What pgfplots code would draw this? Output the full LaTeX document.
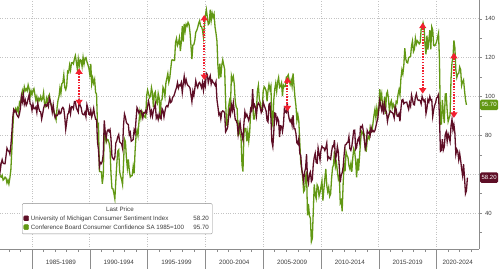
\documentclass[border=0pt]{standalone}
\usepackage{pgfplots}
\pgfplotsset{compat=1.18}
\usepackage{pgfplotstable}
\usepackage{fontspec}
\setmainfont{Liberation Sans}
\usetikzlibrary{arrows.meta}
\definecolor{umich}{RGB}{94,14,38}
\definecolor{cbgreen}{RGB}{98,152,20}
\definecolor{arr}{RGB}{242,32,48}
\definecolor{gridc}{RGB}{195,195,195}
\definecolor{axc}{RGB}{140,140,140}
\definecolor{txt}{RGB}{60,60,60}

% University of Michigan, monthly from Jan 1982
\pgfplotstableread[row sep=\\]{v\\
71.0\\66.5\\62.0\\65.5\\67.5\\65.7\\65.4\\65.4\\69.3\\73.4\\72.1\\71.9\\
70.4\\74.6\\80.8\\89.1\\93.3\\92.2\\92.8\\90.9\\89.9\\89.3\\91.1\\94.2\\
100.1\\97.4\\101.0\\96.1\\98.1\\95.5\\96.6\\99.1\\100.9\\96.3\\95.7\\92.9\\
96.0\\93.7\\93.7\\94.6\\91.8\\96.5\\94.0\\92.4\\92.1\\88.4\\90.9\\93.9\\
95.6\\95.9\\95.1\\96.2\\94.8\\99.3\\97.7\\94.9\\91.9\\95.6\\91.4\\89.1\\
90.4\\90.2\\90.8\\92.8\\91.1\\91.5\\93.7\\94.4\\93.6\\89.3\\83.1\\86.8\\
90.8\\91.6\\94.6\\91.2\\94.8\\94.7\\93.7\\97.4\\97.3\\94.1\\93.0\\91.9\\
97.9\\95.4\\94.3\\91.5\\90.7\\90.6\\92.0\\89.6\\95.8\\93.9\\90.9\\90.5\\
93.0\\89.5\\91.3\\93.9\\90.6\\88.3\\88.2\\76.4\\72.8\\63.9\\66.0\\65.5\\
66.8\\70.4\\87.7\\81.8\\78.3\\82.1\\82.9\\82.0\\83.0\\78.3\\69.1\\68.2\\
67.5\\68.8\\76.0\\77.2\\79.2\\80.4\\76.6\\76.1\\75.6\\73.3\\85.3\\91.0\\
89.3\\86.6\\85.9\\85.6\\80.3\\81.5\\77.0\\77.3\\77.9\\82.7\\81.2\\88.2\\
94.3\\93.2\\91.5\\92.6\\92.8\\91.2\\89.0\\91.7\\91.5\\92.7\\91.6\\95.1\\
97.6\\95.1\\90.3\\92.5\\89.8\\92.7\\94.4\\96.2\\88.9\\90.2\\88.2\\91.0\\
89.3\\88.5\\93.7\\92.7\\89.4\\92.4\\94.7\\95.3\\94.7\\96.5\\99.2\\96.9\\
97.4\\99.7\\100.0\\101.4\\103.2\\104.5\\107.1\\104.4\\106.0\\105.6\\107.2\\102.1\\
106.6\\110.4\\106.5\\108.7\\106.5\\105.6\\105.2\\104.4\\100.9\\97.4\\102.7\\100.5\\
103.9\\108.1\\105.7\\104.6\\106.8\\107.3\\106.0\\104.5\\107.2\\103.2\\107.2\\105.4\\
112.0\\111.3\\107.1\\109.2\\110.7\\106.4\\108.3\\107.3\\106.8\\105.8\\107.6\\98.4\\
94.7\\90.6\\91.5\\88.4\\92.0\\92.6\\92.4\\91.5\\81.8\\82.7\\83.9\\88.8\\
93.0\\90.7\\95.7\\93.0\\96.9\\92.4\\88.1\\87.6\\86.1\\80.6\\84.2\\86.7\\
82.4\\79.9\\77.6\\86.0\\92.1\\89.7\\90.9\\89.3\\87.7\\89.6\\93.7\\92.6\\
103.8\\94.4\\95.8\\94.2\\90.2\\95.6\\96.7\\95.9\\94.2\\91.7\\92.8\\97.1\\
95.5\\94.1\\92.6\\87.7\\86.9\\96.0\\96.5\\89.1\\76.9\\74.2\\81.6\\91.5\\
91.2\\86.7\\88.9\\87.4\\79.1\\84.9\\84.7\\82.0\\85.4\\93.6\\92.1\\91.7\\
96.9\\91.3\\88.4\\87.1\\88.3\\85.3\\90.4\\83.4\\83.4\\80.9\\76.1\\75.5\\
78.4\\70.8\\69.5\\62.6\\59.8\\56.4\\61.2\\63.0\\70.3\\57.6\\55.3\\60.1\\
61.2\\56.3\\57.3\\65.1\\68.7\\70.8\\66.0\\65.7\\73.5\\70.6\\67.4\\72.5\\
74.4\\73.6\\73.6\\72.2\\73.6\\76.0\\67.8\\68.9\\68.2\\67.7\\71.6\\74.5\\
74.2\\77.5\\67.5\\69.8\\74.3\\71.5\\63.7\\55.8\\59.5\\60.8\\63.7\\69.9\\
75.0\\75.3\\76.2\\76.4\\79.3\\73.2\\72.3\\74.3\\78.3\\82.6\\82.7\\72.9\\
73.8\\77.6\\78.6\\76.4\\84.5\\84.1\\85.1\\82.1\\77.5\\73.2\\75.1\\82.5\\
81.2\\81.6\\80.0\\84.1\\81.9\\82.5\\81.8\\82.5\\84.6\\86.9\\88.8\\93.6\\
98.1\\95.4\\93.0\\95.9\\90.7\\96.1\\93.1\\91.9\\87.2\\90.0\\91.3\\92.6\\
92.0\\91.7\\91.0\\89.0\\94.7\\93.5\\90.0\\89.8\\91.2\\87.2\\93.8\\98.2\\
98.5\\96.3\\96.9\\97.0\\97.1\\95.1\\93.4\\96.8\\95.1\\100.7\\98.5\\95.9\\
95.7\\99.7\\101.4\\98.8\\98.0\\98.2\\97.9\\96.2\\100.1\\98.6\\97.5\\98.3\\
91.2\\93.8\\98.4\\97.2\\100.0\\98.2\\98.4\\89.8\\93.2\\95.5\\96.8\\99.3\\
99.8\\101.0\\89.1\\71.8\\72.3\\78.1\\72.5\\74.1\\80.4\\81.8\\76.9\\80.7\\
79.0\\76.8\\84.9\\88.3\\82.9\\85.5\\81.2\\70.3\\72.8\\71.7\\67.4\\70.6\\
67.2\\62.8\\59.4\\65.2\\58.4\\50.0\\51.5\\58.2\\
}\umichtab

% Conference Board, monthly from Jan 1982
\pgfplotstableread[row sep=\\]{v\\
62.0\\60.5\\59.0\\58.5\\59.5\\57.0\\57.5\\58.5\\58.0\\55.5\\57.0\\55.0\\
58.0\\62.0\\72.0\\83.0\\92.0\\93.0\\94.0\\92.0\\94.0\\92.0\\97.0\\96.0\\
100.0\\103.0\\101.0\\105.0\\103.0\\104.0\\103.0\\106.0\\104.0\\100.0\\103.0\\101.0\\
103.0\\104.0\\101.0\\98.0\\100.0\\97.0\\99.0\\98.0\\100.0\\98.0\\99.0\\102.0\\
96.0\\95.0\\99.0\\97.0\\100.0\\101.0\\97.0\\96.0\\94.0\\94.0\\92.0\\90.0\\
88.0\\94.1\\98.1\\100.0\\104.4\\101.6\\106.6\\107.2\\111.1\\104.7\\103.5\\105.5\\
113.0\\112.4\\116.2\\113.6\\117.4\\117.5\\116.8\\119.4\\121.1\\117.8\\114.2\\119.4\\
115.6\\119.0\\118.6\\115.4\\120.2\\116.7\\119.5\\120.0\\117.9\\116.4\\114.7\\111.3\\
116.8\\106.5\\109.6\\106.9\\108.8\\102.2\\101.2\\84.7\\85.6\\61.4\\61.3\\61.2\\
55.1\\59.4\\81.1\\79.4\\76.4\\78.0\\77.7\\76.1\\72.9\\60.1\\52.7\\52.5\\
50.2\\47.3\\56.5\\65.1\\71.9\\72.6\\61.2\\59.0\\57.3\\54.6\\65.6\\78.1\\
76.7\\68.5\\63.2\\67.6\\61.9\\58.6\\59.2\\59.3\\63.8\\60.5\\71.9\\79.8\\
82.6\\79.9\\86.7\\92.1\\88.9\\92.5\\91.3\\90.4\\89.5\\89.1\\100.4\\103.4\\
101.4\\99.4\\100.2\\104.6\\102.0\\94.6\\101.4\\102.4\\97.3\\96.3\\101.6\\99.2\\
88.4\\98.0\\98.4\\104.8\\103.5\\100.1\\107.0\\109.4\\111.8\\107.3\\109.5\\114.2\\
118.7\\118.9\\118.5\\118.5\\127.9\\129.9\\126.3\\127.6\\130.2\\123.4\\128.1\\136.2\\
128.3\\137.4\\133.8\\137.2\\136.3\\138.2\\137.2\\133.1\\126.4\\119.3\\126.4\\126.7\\
128.9\\133.1\\134.0\\135.5\\137.7\\139.0\\136.2\\136.0\\134.2\\130.5\\137.0\\141.7\\
144.7\\140.8\\137.1\\137.7\\144.7\\139.2\\143.0\\140.8\\142.5\\135.8\\132.6\\128.6\\
115.7\\109.2\\116.9\\109.9\\116.1\\118.9\\116.3\\114.0\\97.0\\85.3\\84.9\\94.6\\
97.8\\95.0\\110.7\\108.5\\110.3\\106.3\\97.4\\94.5\\93.7\\79.6\\84.9\\80.7\\
78.8\\64.8\\61.4\\81.0\\83.6\\83.5\\77.0\\81.7\\77.0\\81.7\\92.5\\94.8\\
97.7\\88.5\\88.5\\93.0\\93.1\\102.8\\105.7\\98.7\\96.7\\92.9\\92.6\\102.7\\
105.1\\104.4\\103.0\\97.5\\103.1\\106.2\\103.6\\105.5\\87.5\\85.2\\98.3\\103.8\\
106.8\\102.7\\107.5\\109.8\\104.7\\105.4\\107.0\\100.2\\105.9\\105.1\\105.3\\110.0\\
110.2\\111.2\\108.2\\106.3\\108.5\\105.3\\111.9\\105.6\\99.5\\95.2\\87.8\\90.6\\
87.3\\76.4\\65.9\\62.8\\58.1\\51.0\\51.9\\58.5\\61.4\\38.8\\44.7\\38.6\\
37.4\\25.3\\26.9\\40.8\\54.8\\49.3\\47.4\\54.5\\53.4\\48.7\\50.6\\53.6\\
56.5\\46.4\\52.3\\57.7\\62.7\\54.3\\51.0\\53.2\\48.6\\49.9\\57.8\\63.4\\
64.8\\72.0\\63.8\\66.0\\61.7\\57.6\\59.2\\45.2\\46.4\\40.9\\55.2\\64.8\\
61.5\\71.6\\69.5\\68.7\\64.4\\62.7\\65.4\\61.3\\68.4\\73.1\\71.5\\66.7\\
58.4\\68.0\\61.9\\69.0\\76.2\\82.1\\81.0\\81.8\\80.2\\72.4\\72.0\\77.5\\
79.4\\78.3\\83.9\\81.7\\82.2\\86.4\\90.3\\93.4\\89.0\\94.1\\91.0\\93.1\\
103.8\\98.8\\101.4\\94.3\\94.6\\99.8\\91.0\\101.3\\102.6\\99.1\\92.6\\96.3\\
97.8\\94.0\\96.1\\94.7\\92.4\\97.4\\96.7\\101.1\\103.5\\100.8\\109.4\\113.7\\
111.6\\116.1\\124.9\\119.4\\117.6\\117.3\\120.0\\120.4\\120.6\\126.2\\128.6\\123.1\\
124.3\\130.0\\127.0\\128.7\\128.0\\127.1\\127.9\\134.7\\135.3\\137.9\\135.7\\126.6\\
121.7\\131.4\\124.2\\129.2\\134.1\\124.3\\135.8\\134.2\\126.3\\126.1\\126.8\\128.2\\
130.4\\132.6\\118.8\\85.7\\85.9\\98.3\\91.7\\86.3\\101.3\\101.4\\92.9\\87.1\\
88.9\\90.4\\109.0\\117.5\\120.0\\128.9\\125.1\\113.8\\109.8\\111.6\\111.9\\115.2\\
113.8\\105.7\\107.6\\108.6\\103.2\\98.4\\95.7\\
}\cbtab

\begin{document}
\begin{tikzpicture}
\begin{axis}[
  at={(0,0)}, anchor=south west,
  scale only axis, width=479pt, height=249pt,
  xmin=1982.23, xmax=2023.67, ymin=21.5, ymax=149.7,
  clip=true,
  axis x line*=bottom, axis y line*=right,
  axis line style={axc, line width=0.6pt},
  tick align=outside,
  major tick length=2.5pt, minor tick length=2.5pt,
  tick style={axc, line width=0.5pt},
  ytick={40,60,...,140}, minor ytick={30,50,...,130},
  yticklabels={40,,80,100,120,140},
  yticklabel style={font=\fontsize{6}{7}\selectfont, text=txt},
  /pgf/number format/assume math mode=true,
  xtick={1985,1990,...,2020},
  xticklabels={,,,,,,,},
  minor xtick={1983,...,2023},
  grid=major,
  major grid style={gridc, dotted, line width=0.7pt},
  extra x ticks={1987.5,1992.5,1997.5,2002.5,2007.5,2012.5,2017.5,2021.83},
  extra x tick labels={1985-1989,1990-1994,1995-1999,2000-2004,2005-2009,2010-2014,2015-2019,2020-2024},
  extra x tick style={grid=none, tick style={draw=none},
     xticklabel style={font=\fontsize{6.3}{7}\selectfont, text=txt, anchor=base, yshift=-13pt}},
  legend style={at={(0.046,0.06)}, anchor=south west,
     font=\fontsize{6.2}{7}\selectfont, draw=axc, rounded corners=1pt,
     inner sep=1.3pt, row sep=-1.2pt, text=txt},
  legend cell align=left,
  legend image code/.code={\fill[#1] (0pt,-2pt) rectangle (5pt,3pt);},
]
\addplot[cbgreen, line width=1.3pt, forget plot] table[x expr=1982+(\coordindex+1)/12, y=v] {\cbtab};
\addplot[umich, line width=1.3pt, forget plot] table[x expr=1982+(\coordindex+1)/12, y=v] {\umichtab};

\addplot[arr, line width=2pt, dash pattern=on 1.5pt off 1.3pt, {Triangle[width=7pt,length=5.5pt]}-{Triangle[width=7pt,length=5.5pt]}, forget plot] coordinates {(1989.07,95.5) (1989.07,114.5)};
\addplot[arr, line width=2pt, dash pattern=on 1.5pt off 1.3pt, {Triangle[width=7pt,length=5.5pt]}-{Triangle[width=7pt,length=5.5pt]}, forget plot] coordinates {(1999.9,108.5) (1999.9,142)};
\addplot[arr, line width=2pt, dash pattern=on 1.5pt off 1.3pt, {Triangle[width=7pt,length=5.5pt]}-{Triangle[width=7pt,length=5.5pt]}, forget plot] coordinates {(2007.1,92.3) (2007.1,110)};
\addplot[arr, line width=2pt, dash pattern=on 1.5pt off 1.3pt, {Triangle[width=7pt,length=5.5pt]}-{Triangle[width=7pt,length=5.5pt]}, forget plot] coordinates {(2018.8,101.5) (2018.8,138)};
\addplot[arr, line width=2pt, dash pattern=on 1.5pt off 1.3pt, {Triangle[width=7pt,length=5.5pt]}-{Triangle[width=7pt,length=5.5pt]}, forget plot] coordinates {(2021.5,89) (2021.5,122.5)};

\addlegendimage{empty legend}
\addlegendentry{\makebox[178pt][c]{Last Price}}
\addlegendimage{umich}
\addlegendentry{\makebox[178pt][l]{University of Michigan Consumer Sentiment Index\hfill 58.20}}
\addlegendimage{cbgreen}
\addlegendentry{\makebox[178pt][l]{Conference Board Consumer Confidence SA 1985=100\hfill 95.70}}

\coordinate (tagA) at (axis cs:2023.67,95.7);
\coordinate (tagB) at (axis cs:2023.67,58.2);
\coordinate (s1) at (axis cs:1985,21.5);
\coordinate (s2) at (axis cs:1990,21.5);
\coordinate (s3) at (axis cs:1995,21.5);
\coordinate (s4) at (axis cs:2000,21.5);
\coordinate (s5) at (axis cs:2005,21.5);
\coordinate (s6) at (axis cs:2010,21.5);
\coordinate (s7) at (axis cs:2015,21.5);
\coordinate (s8) at (axis cs:2020,21.5);
\end{axis}
\foreach \s in {s1,s2,s3,s4,s5,s6,s7,s8}{
  \draw[axc, line width=0.5pt] (\s) -- ([yshift=-20pt]\s);
}
\node[fill=cbgreen, text=white, font=\fontsize{6}{7}\selectfont, anchor=west, rounded corners=1.5pt, inner sep=1.6pt, minimum height=10.5pt] at ([xshift=0.8pt]tagA) {95.70};
\node[fill=umich, text=white, font=\fontsize{6}{7}\selectfont, anchor=west, rounded corners=1.5pt, inner sep=1.6pt, minimum height=10.5pt] at ([xshift=0.8pt]tagB) {58.20};
\pgfresetboundingbox
\path (0,-19pt) rectangle (500pt,249pt);
\end{tikzpicture}
\end{document}
